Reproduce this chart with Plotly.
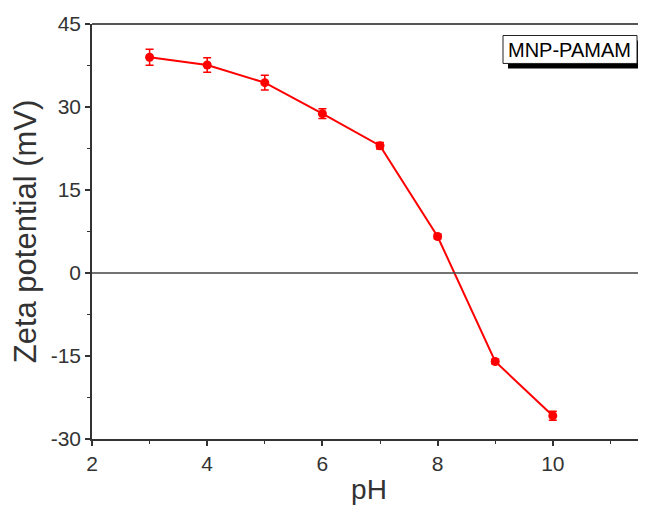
import plotly.graph_objects as go

ph = [3, 4, 5, 6, 7, 8, 9, 10]
zeta = [39.0, 37.6, 34.4, 28.8, 23.0, 6.6, -16.0, -25.8]
zeta_err = [1.45, 1.3, 1.35, 0.9, 0.6, 0.4, 0.4, 0.8]
x_ticks = [2, 4, 6, 8, 10]
y_ticks = [-30, -15, 0, 15, 30, 45]
y_tick_labels = ["-30", "-15", "0", "15", "30", "45"]

# page body has an 8px margin; figure coordinates are shifted by it
OFF = 8
W, H = 638, 497
L, R, T, B = 92 - OFF, 0, 23.5 - OFF, (H + OFF) - 439
pw, ph_ = W - L - R, H - T - B

def px(x):
    return (x - OFF - L) / pw

def py(y):
    return (H - B - (y - OFF)) / ph_

fig = go.Figure()
fig.add_trace(go.Scatter(
    x=ph, y=zeta,
    error_y=dict(type="data", array=zeta_err, color="red", thickness=1.5, width=4),
    mode="lines+markers",
    line=dict(color="red", width=2),
    marker=dict(color="red", size=9, symbol="circle"),
    showlegend=False,
))

fig.add_hline(y=0, line=dict(color="#444444", width=1.5))

# label box with drop shadow
fig.add_shape(type="rect", xref="paper", yref="paper",
              x0=px(508), x1=px(642), y0=py(68), y1=py(40),
              fillcolor="black", line=dict(width=0), layer="above")
fig.add_shape(type="rect", xref="paper", yref="paper",
              x0=px(503), x1=px(637), y0=py(63), y1=py(35),
              fillcolor="white", line=dict(color="#222222", width=1), layer="above")
fig.add_annotation(xref="paper", yref="paper", x=px(569), y=py(49.5),
                   xanchor="center", yanchor="middle",
                   text="MNP-PAMAM", showarrow=False,
                   font=dict(family="Liberation Sans, Arial", size=20, color="black"))

tick_font = dict(family="Liberation Sans, Arial", size=21, color="#333333")
fig.update_xaxes(
    range=[2, 2 + pw / 57.6], tickvals=x_ticks,
    showline=True, linecolor="#333333", linewidth=1.5, mirror=False,
    ticks="outside", ticklen=5, tickwidth=1.5, tickcolor="#333333",
    minor=dict(dtick=1, ticks="outside", ticklen=3, tickcolor="#333333", tickwidth=1),
    showgrid=False, zeroline=False, tickfont=tick_font, automargin=False,
    title=dict(text="pH", font=dict(family="Liberation Sans, Arial", size=28, color="#333333"), standoff=6),
)
fig.update_yaxes(
    range=[-30, 45], tickvals=y_ticks, ticktext=y_tick_labels,
    showline=True, linecolor="#333333", linewidth=1.5,
    ticks="outside", ticklen=5, tickwidth=1.5, tickcolor="#333333",
    minor=dict(dtick=7.5, ticks="outside", ticklen=3, tickcolor="#333333", tickwidth=1),
    showgrid=False, zeroline=False, tickfont=tick_font, automargin=False,
    title=dict(text="Zeta potential (mV)", font=dict(family="Liberation Sans, Arial", size=31, color="#333333"), standoff=6),
)
# top frame line
fig.add_shape(type="line", xref="paper", yref="paper", x0=0, x1=1, y0=1, y1=1,
              line=dict(color="#555555", width=2))

fig.update_layout(
    width=W, height=H,
    margin=dict(l=L, r=R, t=T, b=B),
    paper_bgcolor="white", plot_bgcolor="white",
)
fig.write_html("out.html")
